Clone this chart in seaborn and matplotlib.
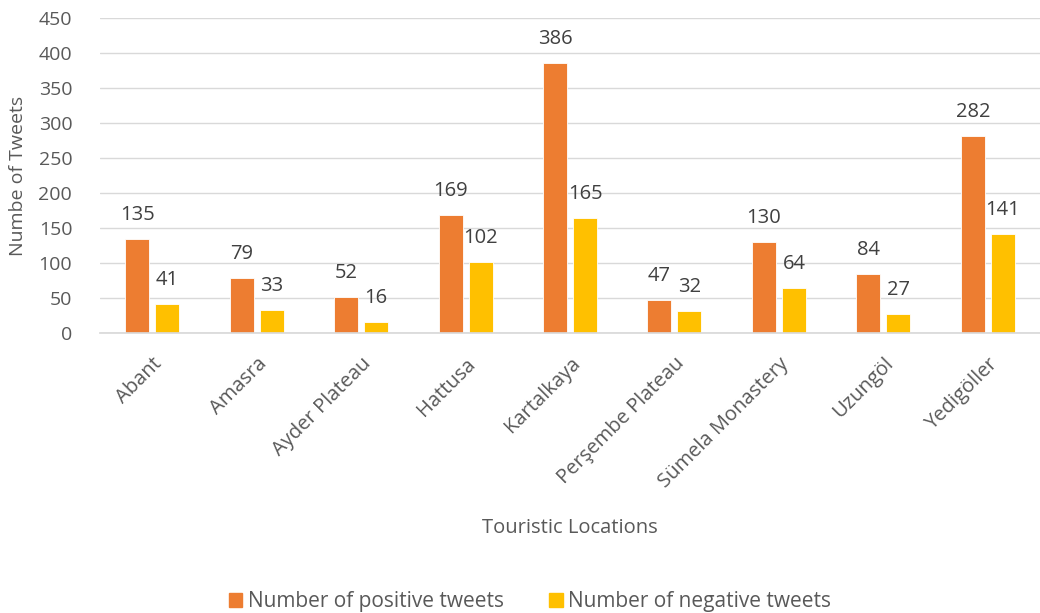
import matplotlib
matplotlib.use("Agg")
import matplotlib.pyplot as plt
import seaborn as sns
import pandas as pd

locations = ["Abant", "Amasra", "Ayder Plateau", "Hattusa", "Kartalkaya",
             "Perşembe Plateau", "Sümela Monastery", "Uzungöl", "Yedigöller"]
positive = [135, 79, 52, 169, 386, 47, 130, 84, 282]
negative = [41, 33, 16, 102, 165, 32, 64, 27, 141]
series_names = ["Number of positive tweets", "Number of negative tweets"]
colors = ["#ED7D31", "#FFC000"]

df = pd.DataFrame({
    "Location": locations * 2,
    "Count": positive + negative,
    "Series": [series_names[0]] * len(locations) + [series_names[1]] * len(locations),
})

sns.set_theme(style="white")
plt.rcParams["font.family"] = ["Open Sans", "DejaVu Sans"]

fig = plt.figure(figsize=(10.4, 6.13), dpi=100)
ax = fig.add_axes([100 / 1040, 280 / 613, 940 / 1040, 315 / 613])

sns.barplot(data=df, x="Location", y="Count", hue="Series", palette=colors,
            saturation=1, width=0.575, gap=0.2, ax=ax, edgecolor="white",
            linewidth=0.6, hue_order=series_names)

for cont in ax.containers:
    ax.bar_label(cont, padding=10, fontsize=14.5, color="#404040")

ax.set_ylim(0, 450)
ax.set_yticks(range(0, 451, 50))
ax.yaxis.grid(True, color="#D9D9D9", linewidth=1)
ax.set_axisbelow(True)
for s in ["top", "right", "left"]:
    ax.spines[s].set_visible(False)
ax.spines["bottom"].set_color("#D9D9D9")
ax.tick_params(axis="both", length=0, labelcolor="#595959")
ax.tick_params(axis="y", pad=20, labelsize=14)
ax.tick_params(axis="x", pad=15, labelsize=14.5)
plt.setp(ax.get_xticklabels(), rotation=45, ha="right", rotation_mode="anchor")
ax.set_xlabel("Touristic Locations", fontsize=14.5, color="#595959", labelpad=19)
ax.set_ylabel("Numbe of Tweets", fontsize=14, color="#595959", labelpad=8)

ax.legend_.remove()
handles = [plt.Rectangle((0, 0), 1, 1, color=c) for c in colors]
fig.legend(handles, series_names, loc="center", bbox_to_anchor=(530 / 1040, 1 - 602 / 613),
           ncol=2, frameon=False, fontsize=15, handlelength=0.65, handleheight=0.65,
           handletextpad=0.25, columnspacing=2.2, labelcolor="#595959")

fig.savefig("out.png", dpi=100)
